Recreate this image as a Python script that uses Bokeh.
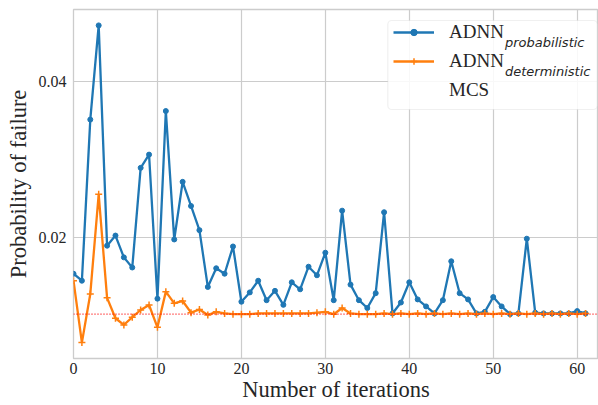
from bokeh.plotting import figure
from bokeh.models import (Legend, LegendItem, Span, Label, BoxAnnotation,
                          FixedTicker, Range1d, NumeralTickFormatter)
from bokeh.embed import file_html
from bokeh.resources import INLINE

iterations = list(range(62))
pf_probabilistic = [0.0153, 0.0144, 0.0351, 0.0472, 0.0189, 0.0202, 0.0174, 0.0161,
                    0.0289, 0.0306, 0.0121, 0.0362, 0.0197, 0.0271, 0.0240, 0.0209,
                    0.0136, 0.0160, 0.0153, 0.0188, 0.0117, 0.0129, 0.0144, 0.0119,
                    0.0131, 0.0113, 0.0142, 0.0133, 0.0162, 0.0151, 0.0180, 0.0119,
                    0.0234, 0.0139, 0.0119, 0.0109, 0.0128, 0.0232, 0.0102, 0.0116,
                    0.0142, 0.0120, 0.0111, 0.0102, 0.0119, 0.0169, 0.0128, 0.0120,
                    0.0102, 0.0104, 0.0123, 0.0111, 0.0101, 0.0102, 0.0198, 0.0103,
                    0.0102, 0.0102, 0.0102, 0.0102, 0.0105, 0.0102]
pf_deterministic = [0.0144, 0.00645, 0.0127, 0.0255, 0.0122, 0.00958, 0.00872, 0.00971,
                    0.01064, 0.01128, 0.00842, 0.0130, 0.0115, 0.0118, 0.0103, 0.0107,
                    0.0100, 0.0104, 0.0102, 0.0101, 0.0101, 0.0101, 0.0102, 0.0102,
                    0.0102, 0.0102, 0.0102, 0.0102, 0.0102, 0.0103, 0.0104, 0.0101,
                    0.0109, 0.0102, 0.0101, 0.0101, 0.0101, 0.0102, 0.0101, 0.0102,
                    0.0101, 0.0102, 0.0101, 0.0102, 0.0101, 0.0102, 0.0101, 0.0102,
                    0.0101, 0.0102, 0.0101, 0.0102, 0.0101, 0.0102, 0.0101, 0.0102,
                    0.0101, 0.0102, 0.0101, 0.0102, 0.0101, 0.0102]
mcs_pf = 0.0101
x_ticks = [0, 10, 20, 30, 40, 50, 60]
y_ticks = [0.02, 0.04]
series_names = ["ADNN", "ADNN", "MCS"]
series_subscripts = ["probabilistic", "deterministic"]

BLUE = "#1f77b4"
ORANGE = "#ff7f0e"
TEXT = "#262626"
GRID = "#cccccc"
SERIF = "Liberation Serif"

p = figure(width=598, height=405, output_backend="svg", toolbar_location=None,
           x_range=Range1d(0, 62.54), y_range=Range1d(0.00441, 0.04924),
           min_border_left=73, min_border_right=0, min_border_top=9,
           min_border_bottom=47)
p.background_fill_color = "white"
p.border_fill_color = "white"
p.outline_line_color = GRID
p.outline_line_width = 1.3

for g in (p.xgrid, p.ygrid):
    g.grid_line_color = GRID
    g.grid_line_width = 1.2

p.xaxis.ticker = FixedTicker(ticks=x_ticks)
p.yaxis.ticker = FixedTicker(ticks=y_ticks)
p.yaxis.formatter = NumeralTickFormatter(format="0.00")
for ax in (p.xaxis, p.yaxis):
    ax.axis_line_color = None
    ax.major_tick_line_color = None
    ax.minor_tick_line_color = None
    ax.major_tick_out = 0
    ax.major_tick_in = 0
    ax.minor_tick_out = 0
    ax.minor_tick_in = 0
    ax.major_label_text_font = SERIF
    ax.major_label_text_font_size = "16px"
    ax.major_label_text_color = TEXT
    ax.axis_label_text_font = SERIF
    ax.axis_label_text_font_size = "22.5px"
    ax.axis_label_text_font_style = "normal"
    ax.axis_label_text_color = TEXT
p.xaxis.axis_label = "Number of iterations"
p.yaxis.axis_label = "Probability of failure"
p.xaxis.major_label_standoff = 4
p.xaxis.axis_label_standoff = 0
p.yaxis.major_label_standoff = 7
p.yaxis.axis_label_standoff = 5

l1 = p.line(iterations, pf_probabilistic, line_color=BLUE, line_width=2.3)
s1 = p.scatter(iterations, pf_probabilistic, marker="circle", size=5,
               fill_color=BLUE, line_color=BLUE)
l2 = p.line(iterations, pf_deterministic, line_color=ORANGE, line_width=2.3)
s2 = p.scatter(iterations, pf_deterministic, marker="cross", size=7,
               line_color=ORANGE, line_width=1.5)

p.add_layout(Span(location=mcs_pf, dimension="width", line_color="#ff0000",
                  line_width=1.2, line_dash="1 2"))
l3 = p.line(x=[], y=[], line_color="#ff0000", line_width=1.2, line_dash="1 2")

p.add_layout(BoxAnnotation(left=314.3, right=523.7, top=338, bottom=249,
                           left_units="screen", right_units="screen",
                           top_units="screen", bottom_units="screen",
                           fill_color="white", fill_alpha=0.85,
                           line_color=GRID, line_width=1.2, border_radius=4))

legend = Legend(items=[LegendItem(label=series_names[0], renderers=[l1, s1]),
                       LegendItem(label=series_names[1], renderers=[l2, s2]),
                       LegendItem(label=series_names[2], renderers=[l3])],
                location=(320, 257), padding=0, margin=0, spacing=7,
                glyph_width=41, glyph_height=16, label_height=16,
                label_standoff=15, label_width=141,
                label_text_font=SERIF, label_text_font_size="19px",
                label_text_color=TEXT, border_line_color=None,
                background_fill_alpha=0)
p.add_layout(legend)

sub_y = [316, 287]
for txt, yy in zip(series_subscripts, sub_y):
    p.add_layout(Label(x=431.5, y=yy, x_units="screen", y_units="screen",
                       text=txt, text_font="DejaVu Sans", text_font_style="italic",
                       text_font_size="13px", text_color=TEXT,
                       text_baseline="alphabetic", text_align="left"))

open("out.html", "w").write(file_html(p, INLINE))
